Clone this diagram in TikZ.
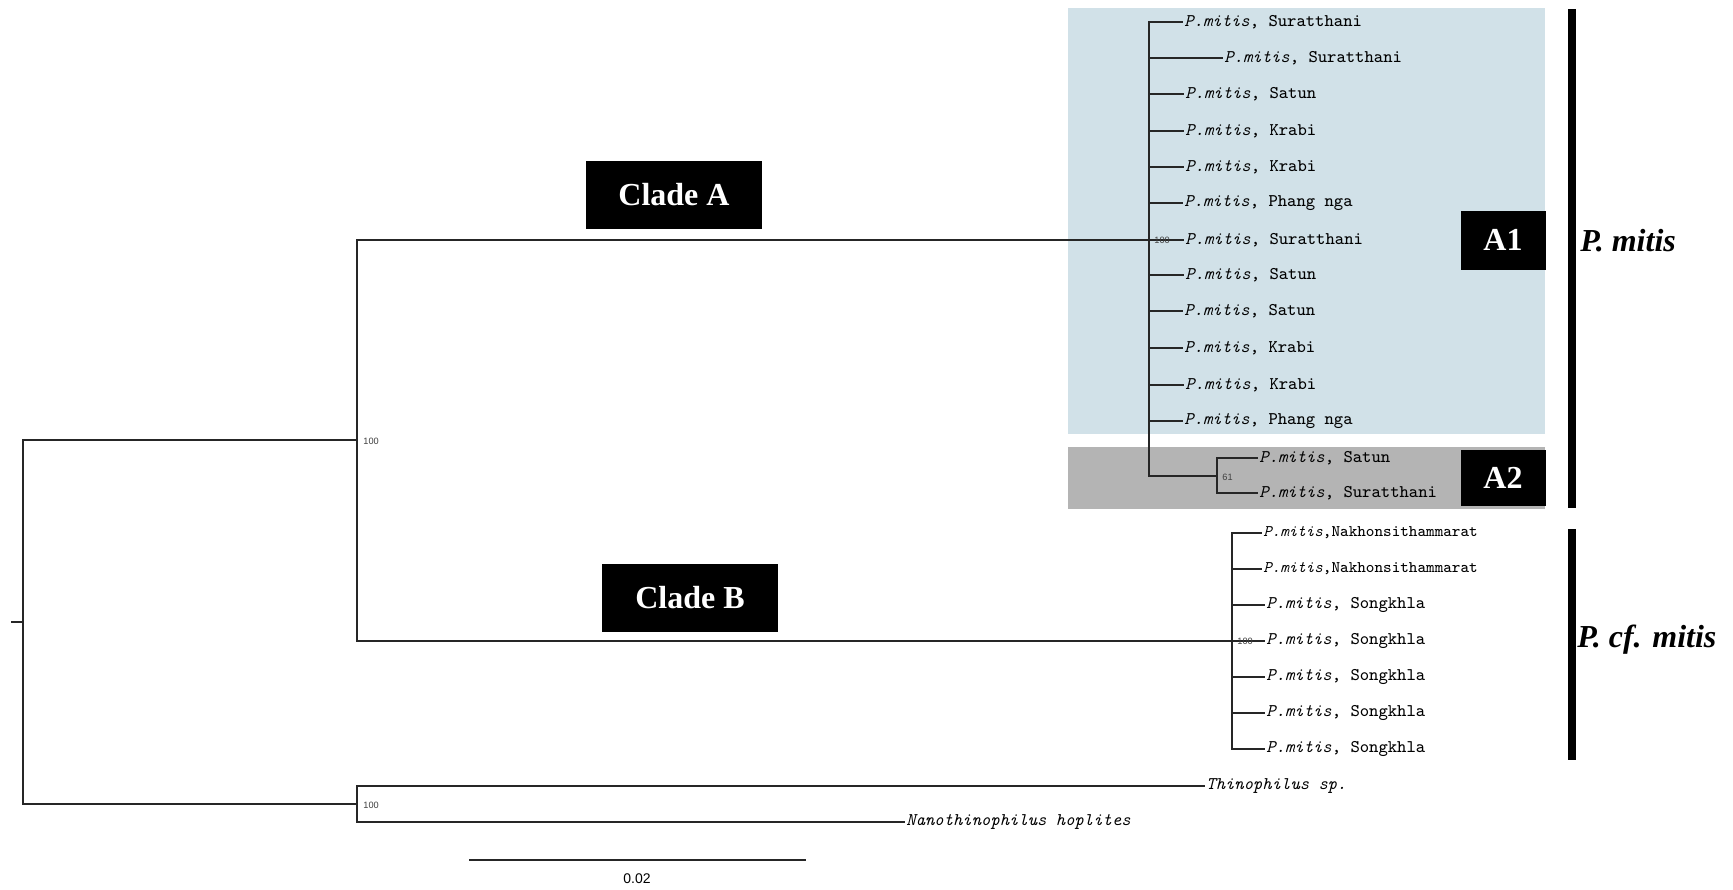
\documentclass[tikz,border=0pt]{standalone}
\usepackage{fontspec}
\setmainfont{Liberation Serif}
\setsansfont{Liberation Sans}
\usetikzlibrary{positioning}
\definecolor{CladeBlue}{RGB}{209,225,232}
\definecolor{CladeGrey}{RGB}{180,180,180}
\newcommand{\mitis}[1]{\textit{P.mitis}, #1}
\newcommand{\mitisnb}[1]{\textit{P.mitis},#1}

\begin{document}
\begin{tikzpicture}[x=0.5pt,y=-0.5pt,
    branch/.style={draw=black!85,line width=0.75pt},
    leaf/.style={anchor=west,inner sep=0.5pt,
                 font=\fontsize{8.9}{10}\selectfont\ttfamily},
    leafsm/.style={leaf,font=\fontsize{8.1}{10}\selectfont\ttfamily},
    boot/.style={anchor=west,inner sep=0pt,text=black!75,
                 font=\fontsize{4.6}{5}\selectfont\sffamily},
    cladebox/.style={fill=black,text=white,inner sep=0pt,
                     font=\fontsize{16}{18}\selectfont\bfseries},
    groupname/.style={anchor=base west,inner sep=0pt,
                      font=\fontsize{16}{18}\selectfont\bfseries\itshape}
  ]
  \useasboundingbox[fill=white] (0,0) rectangle (1733,889);

  % shaded subclades
  \fill[CladeBlue] (1068,8) rectangle (1545,434);
  \fill[CladeGrey] (1068,447) rectangle (1545,509);

  % internal nodes
  \coordinate (stub) at (11,622);
  \coordinate (root) at (23,622);
  \coordinate (inG) at (357,440);
  \coordinate (outG) at (357,804);
  \coordinate (cladeA) at (1149,240);
  \coordinate (cladeA2) at (1217,476);
  \coordinate (cladeB) at (1232,641);

  % clade A1
  \node[leaf] (a1) at (1183,22) {\mitis{Suratthani}};
  \node[leaf] (a2) at (1223,58) {\mitis{Suratthani}};
  \node[leaf] (a3) at (1184,94) {\mitis{Satun}};
  \node[leaf] (a4) at (1184,131) {\mitis{Krabi}};
  \node[leaf] (a5) at (1184,167) {\mitis{Krabi}};
  \node[leaf] (a6) at (1183,203) {\mitis{Phang nga}};
  \node[leaf] (a7) at (1184,240) {\mitis{Suratthani}};
  \node[leaf] (a8) at (1184,275) {\mitis{Satun}};
  \node[leaf] (a9) at (1183,311) {\mitis{Satun}};
  \node[leaf] (a10) at (1183,348) {\mitis{Krabi}};
  \node[leaf] (a11) at (1184,385) {\mitis{Krabi}};
  \node[leaf] (a12) at (1183,421) {\mitis{Phang nga}};
  % clade A2
  \node[leaf] (a13) at (1258,458) {\mitis{Satun}};
  \node[leaf] (a14) at (1258,493) {\mitis{Suratthani}};

  % clade B
  \node[leafsm] (b1) at (1262,533) {\mitisnb{Nakhonsithammarat}};
  \node[leafsm] (b2) at (1262,569) {\mitisnb{Nakhonsithammarat}};
  \node[leaf] (b3) at (1265,605) {\mitis{Songkhla}};
  \node[leaf] (b4) at (1265,641) {\mitis{Songkhla}};
  \node[leaf] (b5) at (1265,677) {\mitis{Songkhla}};
  \node[leaf] (b6) at (1265,713) {\mitis{Songkhla}};
  \node[leaf] (b7) at (1265,749) {\mitis{Songkhla}};

  % outgroup
  \node[leaf] (t1) at (1205,786) {\textit{Thinophilus sp.}};
  \node[leaf] (t2) at (905,822) {\textit{Nanothinophilus hoplites}};

  % branches
  \draw[branch] (stub) -- (root);
  \draw[branch] (root) |- (inG);
  \draw[branch] (root) |- (outG);
  \draw[branch] (inG) |- (cladeA);
  \draw[branch] (inG) |- (cladeB);
  \draw[branch] (cladeA) |- (a1.west);
  \draw[branch] (cladeA) |- (a2.west);
  \draw[branch] (cladeA) |- (a3.west);
  \draw[branch] (cladeA) |- (a4.west);
  \draw[branch] (cladeA) |- (a5.west);
  \draw[branch] (cladeA) |- (a6.west);
  \draw[branch] (cladeA) -- (a7.west);
  \draw[branch] (cladeA) |- (a8.west);
  \draw[branch] (cladeA) |- (a9.west);
  \draw[branch] (cladeA) |- (a10.west);
  \draw[branch] (cladeA) |- (a11.west);
  \draw[branch] (cladeA) |- (a12.west);
  \draw[branch] (cladeA) |- (cladeA2);
  \draw[branch] (cladeA2) |- (a13.west);
  \draw[branch] (cladeA2) |- (a14.west);
  \draw[branch] (cladeB) |- (b1.west);
  \draw[branch] (cladeB) |- (b2.west);
  \draw[branch] (cladeB) |- (b3.west);
  \draw[branch] (cladeB) -- (b4.west);
  \draw[branch] (cladeB) |- (b5.west);
  \draw[branch] (cladeB) |- (b6.west);
  \draw[branch] (cladeB) |- (b7.west);
  \draw[branch] (outG) |- (t1.west);
  \draw[branch] (outG) |- (t2.west);

  % bootstrap values
  \node[boot] (bsIn) at (363,441) {100};
  \node[boot] (bsOut) at (363,805) {100};
  \node[boot] (bsA) at (1154,240) {100};
  \node[boot] (bsA2) at (1222,477) {61};
  \node[boot] (bsB) at (1237,641) {100};

  % clade labels
  \node[cladebox,minimum width=88pt,minimum height=34pt] (labA) at (674,195) {Clade A};
  \node[cladebox,minimum width=88pt,minimum height=34pt] (labB) at (690,598) {Clade B};
  \node[cladebox,minimum width=42.5pt,minimum height=29.5pt] (labA1) at (1503,240) {A1};
  \node[cladebox,minimum width=42.5pt,minimum height=28pt] (labA2) at (1503,478) {A2};

  % species bars
  \fill[black] (1568,9) rectangle (1576,508);
  \fill[black] (1568,529) rectangle (1576,760);
  \node[groupname] (spM) at (1580,251) {P. mitis};
  \node[groupname] (spCf) at (1577,647) {P. cf. mitis};

  % scale bar
  \coordinate (sb1) at (469,860);
  \coordinate (sb2) at (806,860);
  \draw[branch] (sb1) -- (sb2);
  \node[font=\fontsize{7}{8}\selectfont\sffamily,inner sep=0pt] (sbl) at (637,879) {0.02};
\end{tikzpicture}
\end{document}
